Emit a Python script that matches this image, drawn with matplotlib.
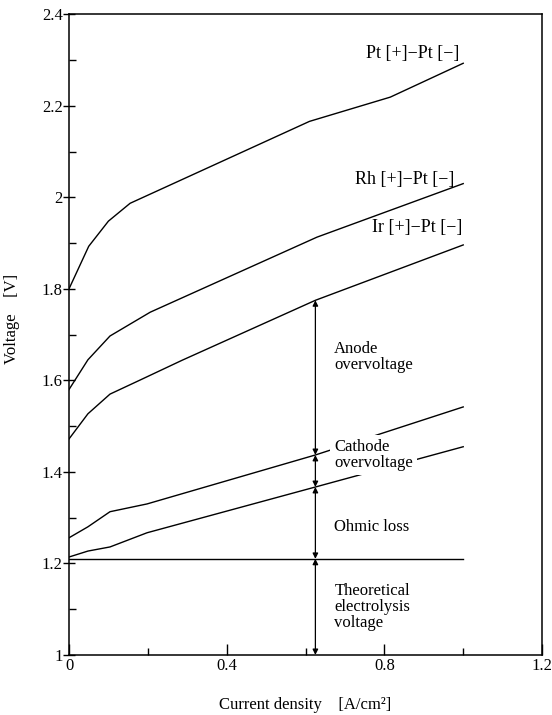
import numpy as np
import matplotlib
matplotlib.use('Agg')
import matplotlib.pyplot as plt
from matplotlib.ticker import MultipleLocator, FuncFormatter

# === DATA ===
pt_x = [0, 0.05, 0.10, 0.155, 0.61, 0.815, 1.0]
pt_y = [1.80, 1.893, 1.948, 1.987, 2.166, 2.219, 2.293]

rh_x = [0, 0.048, 0.104, 0.206, 0.629, 1.0]
rh_y = [1.58, 1.645, 1.697, 1.749, 1.913, 2.03]

ir_x = [0, 0.048, 0.104, 0.181, 0.287, 0.625, 1.0]
ir_y = [1.472, 1.527, 1.570, 1.601, 1.644, 1.775, 1.896]

cathode_x = [0, 0.048, 0.104, 0.198, 0.625, 1.0]
cathode_y = [1.256, 1.280, 1.313, 1.330, 1.437, 1.542]

ohmic_x = [0, 0.048, 0.104, 0.198, 0.625, 1.0]
ohmic_y = [1.214, 1.227, 1.236, 1.267, 1.367, 1.455]

theory_x = [0, 1.0]
theory_y = [1.21, 1.21]

arrow_x = 0.625

curve_labels = ['Pt [+]−Pt [−]', 'Rh [+]−Pt [−]', 'Ir [+]−Pt [−]']
region_labels = ['Anode\novervoltage', 'Cathode\novervoltage',
                 'Ohmic loss', 'Theoretical\nelectrolysis\nvoltage']

# === PLOT ===
plt.rcParams['font.family'] = ['Liberation Serif', 'DejaVu Serif']
fig = plt.figure(figsize=(5.52, 7.15), dpi=100)
ax = fig.add_axes([0.125, 0.084, 0.857, 0.896])

for xs, ys in [(pt_x, pt_y), (rh_x, rh_y), (ir_x, ir_y),
               (cathode_x, cathode_y), (ohmic_x, ohmic_y), (theory_x, theory_y)]:
    ax.plot(xs, ys, color='black', lw=1.0)

# dimension arrows at one current density
levels = [np.interp(arrow_x, ir_x, ir_y),
          np.interp(arrow_x, cathode_x, cathode_y),
          np.interp(arrow_x, ohmic_x, ohmic_y),
          np.interp(arrow_x, theory_x, theory_y),
          1.0]
for top, bot in zip(levels[:-1], levels[1:]):
    ax.annotate('', xy=(arrow_x, bot), xytext=(arrow_x, top),
                arrowprops=dict(arrowstyle='<|-|>', color='black', lw=0.9,
                                mutation_scale=8, shrinkA=0, shrinkB=0))

# curve labels
ax.text(0.991, 2.314, curve_labels[0], ha='right', va='center', fontsize=13)
ax.text(0.978, 2.038, curve_labels[1], ha='right', va='center', fontsize=13)
ax.text(0.999, 1.935, curve_labels[2], ha='right', va='center', fontsize=13)

# region labels (cathode label breaks the two lines it sits on)
box = dict(facecolor='white', edgecolor='none', pad=3)
ax.text(0.673, 1.652, region_labels[0], ha='left', va='center', fontsize=12, linespacing=1.0)
ax.text(0.673, 1.437, region_labels[1], ha='left', va='center', fontsize=12,
        linespacing=1.0, bbox=box)
ax.text(0.673, 1.280, region_labels[2], ha='left', va='center', fontsize=12)
ax.text(0.673, 1.105, region_labels[3], ha='left', va='center', fontsize=12, linespacing=1.0)

ax.set_xlim(0, 1.2)
ax.set_ylim(1, 2.4)
ax.xaxis.set_major_locator(MultipleLocator(0.4))
ax.xaxis.set_minor_locator(MultipleLocator(0.2))
ax.yaxis.set_major_locator(MultipleLocator(0.2))
ax.yaxis.set_minor_locator(MultipleLocator(0.1))
fmt = FuncFormatter(lambda v, p: '%g' % round(v, 2))
ax.xaxis.set_major_formatter(fmt)
ax.yaxis.set_major_formatter(fmt)

ax.tick_params(axis='y', which='major', direction='inout', length=9, width=1, labelsize=12, pad=0)
ax.tick_params(axis='y', which='minor', direction='in', length=5, width=1)
ax.tick_params(axis='x', which='major', direction='in', length=8, width=1, labelsize=12, pad=2)
ax.tick_params(axis='x', which='minor', direction='in', length=5, width=1)
for s in ax.spines.values():
    s.set_linewidth(1.1)

ax.set_xlabel('Current density    [A/cm²]', fontsize=12)
ax.set_ylabel('Voltage    [V]', fontsize=12)
ax.xaxis.set_label_coords(0.5, -0.066)
ax.yaxis.set_label_coords(-0.103, 0.524)

fig.savefig('out.png', dpi=100)
